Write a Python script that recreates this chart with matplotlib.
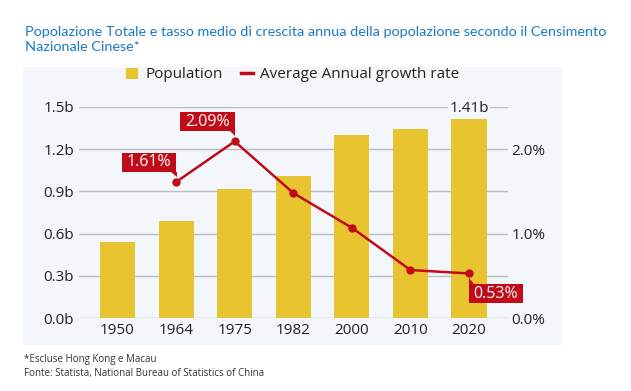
import matplotlib
matplotlib.use('Agg')
import matplotlib.pyplot as plt
from matplotlib.patches import Rectangle, Polygon
from matplotlib.transforms import ScaledTranslation
from matplotlib.lines import Line2D
import numpy as np

# ---- data ----
years = ['1950', '1964', '1975', '1982', '2000', '2010', '2020']
population_b = [0.54, 0.69, 0.92, 1.01, 1.30, 1.34, 1.41]
growth_years = ['1964', '1975', '1982', '2000', '2010', '2020']
growth_pct = [1.61, 2.09, 1.48, 1.07, 0.57, 0.53]
labelled_growth_years = ['1964', '1975', '2020']
left_ticks = [0.0, 0.3, 0.6, 0.9, 1.2, 1.5]
left_tick_labels = ['0.0b', '0.3b', '0.6b', '0.9b', '1.2b', '1.5b']
right_ticks = [0.0, 1.0, 2.0]
right_tick_labels = ['0.0%', '1.0%', '2.0%']
title = ("Popolazione Totale e tasso medio di crescita annua della popolazione secondo il Censimento\n"
         "Nazionale Cinese*")
footnotes = ["*Escluse Hong Kong e Macau",
             "Fonte: Statista, National Bureau of Statistics of China"]

# ---- style ----
YELLOW = '#E9C431'
RED = '#C10B18'
PANEL = '#F3F6FA'
GRID = '#BDBDBD'
TXT = '#222222'
BLUE = '#1B7AC4'
CHART_FONT = ['Open Sans', 'DejaVu Sans']

W, H = 631, 391
fig = plt.figure(figsize=(W / 100, H / 100), dpi=100)
fig.patch.set_facecolor('white')


def rect(x0, y0, x1, y1):
    return [x0 / W, 1 - y1 / H, (x1 - x0) / W, (y1 - y0) / H]


fig.patches.append(Rectangle((23.3 / W, 1 - 345 / H), (561.7 - 23.3) / W, (345 - 66.7) / H,
                             transform=fig.transFigure, facecolor=PANEL, edgecolor='none', zorder=-10))

ax = fig.add_axes(rect(79, 106.7, 507.7, 318.3))
ax.patch.set_visible(False)
x = np.arange(len(years))
ax.bar(x, population_b, width=0.6, color=YELLOW, zorder=2)
ax.set_xlim(-0.657, 6.66)
ax.set_ylim(0, 1.5)
ax.set_yticks(left_ticks, left_tick_labels)
ax.set_xticks(x, years)
ax.grid(axis='y', color=GRID, lw=1, zorder=0)
ax.set_axisbelow(True)
for s in ax.spines.values():
    s.set_visible(False)
ax.tick_params(length=0, labelsize=11, colors=TXT)
ax.tick_params(axis='y', pad=3.6)
ax.tick_params(axis='x', pad=3.6)
for lab in ax.get_xticklabels() + ax.get_yticklabels():
    lab.set_family(CHART_FONT)

# top label for last bar
ax.annotate(f'{population_b[-1]:.2f}b', xy=(x[-1], 1.5), xytext=(0, -1.5), textcoords='offset pixels',
            ha='center', va='center', fontsize=11, color=TXT, family=CHART_FONT, zorder=5,
            bbox=dict(boxstyle='square,pad=0.08', facecolor=PANEL, edgecolor='none'),
            annotation_clip=False)

ax2 = ax.twinx()
ax2.patch.set_visible(False)
ax2.set_ylim(0, 2.5)
ax2.set_yticks(right_ticks, right_tick_labels)
for s in ax2.spines.values():
    s.set_visible(False)
ax2.tick_params(length=0, labelsize=11, colors=TXT, pad=2.9)
for lab in ax2.get_yticklabels():
    lab.set_family(CHART_FONT)

gx = [years.index(y) for y in growth_years]
ax2.plot(gx, growth_pct, color=RED, lw=1.8, marker='o', ms=5, zorder=3)

# callout labels
for yr in labelled_growth_years:
    i = growth_years.index(yr)
    xd, yd = gx[i], growth_pct[i]
    tr = ScaledTranslation(xd, yd, ax2.transData)
    if yr == growth_years[-1]:
        box = [(0, -11), (54, -11), (54, -30), (0, -30)]
        tail = [(0, -10.5), (5, -10.5), (0, -4.5)]
    else:
        box = [(-54.5, 10), (0, 10), (0, 29.5), (-54.5, 29.5)]
        tail = [(-5, 10.5), (0.5, 10.5), (0.5, 5)]
    for poly in (box, tail):
        p = Polygon(poly, closed=True, facecolor=RED, edgecolor='none', transform=tr, zorder=6)
        p.set_clip_on(False)
        ax2.add_artist(p)
    cx = (box[0][0] + box[1][0]) / 2
    cy = (box[0][1] + box[2][1]) / 2
    ax2.annotate(f'{growth_pct[i]:.2f}%', xy=(xd, yd), xytext=(cx, cy), textcoords='offset pixels',
                 ha='center', va='center', fontsize=11.5, color='white', family=CHART_FONT,
                 zorder=7, annotation_clip=False)

# legend
handles = [Rectangle((0, 0), 1, 1, facecolor=YELLOW, edgecolor='none'),
           Line2D([0], [0], color=RED, lw=2.5)]
leg = fig.legend(handles, ['Population', 'Average Annual growth rate'], ncol=2, loc='center',
                 bbox_to_anchor=(293 / W, 1 - 75 / H), frameon=False,
                 prop={'family': CHART_FONT, 'size': 11}, handlelength=0.75, handleheight=0.75,
                 handletextpad=0.5, columnspacing=1.2, borderpad=0, borderaxespad=0)
for t in leg.get_texts():
    t.set_color(TXT)

fig.text(25 / W, 1 - 39.5 / H, title, ha='left', va='center', fontsize=10.4, color=BLUE,
         family=['Lato', 'DejaVu Sans'], linespacing=1.35)
fig.text(24 / W, 1 - 359.3 / H, footnotes[0], ha='left', va='center', fontsize=7, color='#333333',
         family=CHART_FONT)
fig.text(24 / W, 1 - 373.3 / H, footnotes[1], ha='left', va='center', fontsize=7, color='#333333',
         family=CHART_FONT)

fig.savefig('out.png', dpi=100, facecolor='white')
